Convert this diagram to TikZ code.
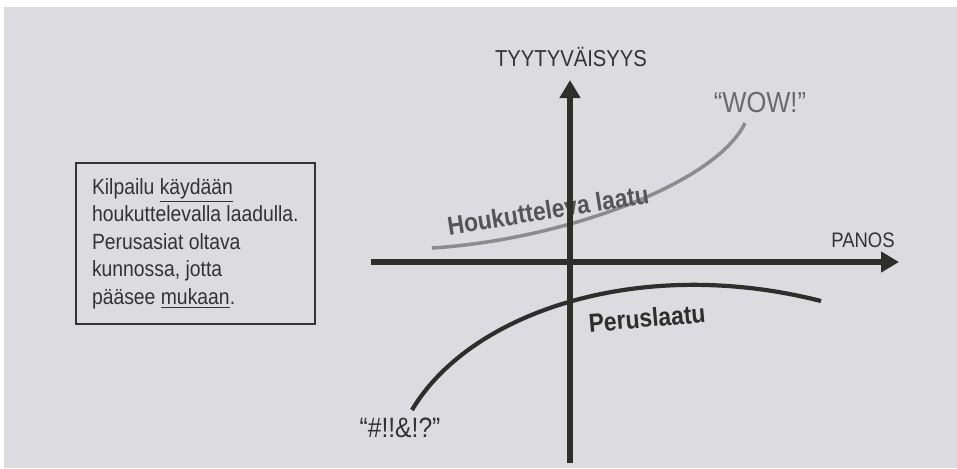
\documentclass[tikz,border=0pt]{standalone}
\usepackage{fontspec}
\setmainfont{Liberation Sans}
\newfontfamily\condfont[FakeStretch=0.88]{Liberation Sans}
\usetikzlibrary{arrows.meta}
\definecolor{QPage}{HTML}{DCDCE0}
\definecolor{QInk}{HTML}{2E2E2B}
\definecolor{QText}{HTML}{333333}
\definecolor{QGreyCurve}{HTML}{8C8C8C}
\definecolor{QGreyText}{HTML}{555555}
\definecolor{QWow}{HTML}{6A6A6A}

\begin{document}
\begin{tikzpicture}[x=0.5pt,y=-0.5pt,
    axis/.style={QInk, line width=3.25pt, -{Triangle[length=9pt,width=10pt]}},
    curvelabel/.style={font=\condfont\bfseries\fontsize{13}{15}\selectfont, inner sep=0pt}]
    \fill[white] (0,0) rectangle (957,468);
    \fill[QPage] (4,7) rectangle (957,468);
    \useasboundingbox (0,0) rectangle (957,468);
    % note box
    \node[draw=QText, line width=1pt, anchor=north west, align=left, inner xsep=8pt,
      minimum height=80.5pt, text=QText, font=\condfont\fontsize{11}{13.75}\selectfont]
      (note) at (75,162) {Kilpailu \underline{käydään}\\houkuttelevalla laadulla.\\Perusasiat oltava\\kunnossa, jotta\\pääsee \underline{mukaan}.};
    % curves
    \coordinate (wowfoot) at (432,248);
    \coordinate (wowtop) at (745,123);
    \coordinate (basefoot) at (412,410);
    \coordinate (baseend) at (821,301);
    \draw[QGreyCurve, line width=1.75pt]
      (wowfoot) .. controls (560,240) and (715,185) .. (wowtop);
    \draw[QInk, line width=2.1pt]
      (basefoot) .. controls (470,312) and (640,255) .. (baseend);
    \node[curvelabel, text=QGreyText, rotate=9] (houkutteleva) at (548,210) {Houkutteleva laatu};
    \node[curvelabel, text=QInk, rotate=5] (peruslaatu) at (647,318) {Peruslaatu};
    \node[text=QWow, font=\condfont\fontsize{14.5}{17}\selectfont] (wow) at (760,103) {“WOW!”};
    \node[text=QText, font=\condfont\fontsize{14}{16}\selectfont] (curse) at (400,428) {“\#!!\&!?”};
    % axes
    \coordinate (yfoot) at (570,463);
    \coordinate (ytip) at (570,80);
    \coordinate (xstart) at (371,262);
    \coordinate (xtip) at (899,262);
    \draw[axis] (yfoot) -- (ytip);
    \draw[axis] (xstart) -- (xtip);
    \node[text=QText, font=\condfont\fontsize{11.5}{13}\selectfont] (ylabel) at (571,57) {TYYTYVÄISYYS};
    \node[text=QText, font=\condfont\fontsize{10.5}{12}\selectfont] (xlabel) at (863,240) {PANOS};
  \end{tikzpicture}
\end{document}
